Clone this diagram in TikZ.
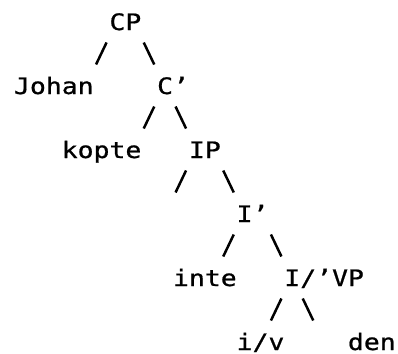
\documentclass[tikz,border=0pt]{standalone}
\usepackage{fontspec}
\usetikzlibrary{calc}
\newfontfamily\treefont[FakeStretch=1.17,FakeBold=0.8]{DejaVu Sans Mono}

% left branch "/" and right branch "\" drawn in grid cell (#7,#8)
% #1 parent, (#2,#3) its cell; #4 child, (#5,#6) its cell
\newcommand\lbr[8]{\draw[branch]
  ($(#1.base west)+({#7-#2+0.818},{#3-#8+0.609})$) --
  ($(#4.base west)+({#7-#5+0.157},{#6-#8-0.078})$);}
\newcommand\rbr[8]{\draw[branch]
  ($(#1.base west)+({#7-#2+0.157},{#3-#8+0.609})$) --
  ($(#4.base west)+({#7-#5+0.818},{#6-#8-0.078})$);}

\begin{document}
\begin{tikzpicture}[x=15.9pt,y=32pt,
  lbl/.style={anchor=base west,inner sep=0pt,outer sep=0pt,
    font=\treefont\fontsize{22.6}{26}\selectfont},
  branch/.style={line width=2.5pt,black}]
\useasboundingbox[fill=white] (-0.8836,0.9375) rectangle (24.148,-10.125);

% labels: column = character cell, row = text line
\node[lbl] (CP)    at (6,0)   {CP};
\node[lbl] (Johan) at (0,-2)  {Johan};
\node[lbl] (Cbar)  at (9,-2)  {C’};
\node[lbl] (kopte) at (3,-4)  {kopte};
\node[lbl] (IP)    at (11,-4) {IP};
\node[lbl] (Ibar)  at (14,-6) {I’};
\node[lbl] (inte)  at (10,-8) {inte};
\node[lbl] (IVP)   at (17,-8) {I/’VP};
\node[lbl] (iv)    at (14,-10){i/v};
\node[lbl] (den)   at (21,-10){den};
\coordinate (spec) at ({10+0.157},{-5-0.078});

% branches
\lbr{CP}{6}{0}{Johan}{0}{2}{5}{1}
\rbr{CP}{6}{0}{Cbar}{9}{2}{8}{1}
\lbr{Cbar}{9}{2}{kopte}{3}{4}{8}{3}
\rbr{Cbar}{9}{2}{IP}{11}{4}{10}{3}
\draw[branch] ($(IP.base west)+({10-11+0.818},{4-5+0.609})$) -- (spec);
\rbr{IP}{11}{4}{Ibar}{14}{6}{13}{5}
\lbr{Ibar}{14}{6}{inte}{10}{8}{13}{7}
\rbr{Ibar}{14}{6}{IVP}{17}{8}{16}{7}
\lbr{IVP}{17}{8}{iv}{14}{10}{16}{9}
\rbr{IVP}{17}{8}{den}{21}{10}{18}{9}
\end{tikzpicture}
\end{document}
